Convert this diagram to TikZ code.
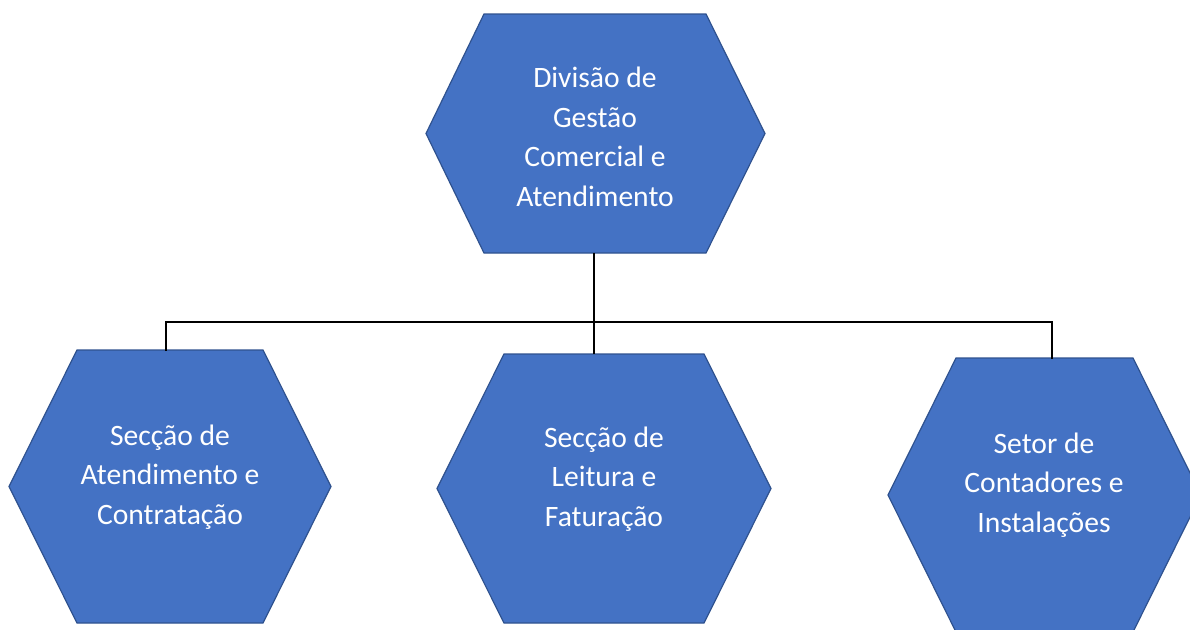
\documentclass[tikz,border=0pt]{standalone}
\usepackage{fontspec}
\setmainfont{Carlito}
\definecolor{hexfill}{HTML}{4472C4}
\definecolor{hexline}{HTML}{2F528F}
\begin{document}
\begin{tikzpicture}[x=0.75pt,y=-0.75pt,
  hex/.style={fill=hexfill,draw=hexline,line width=0.9pt},
  lbl/.style={text=white,align=center,inner sep=0pt,font=\fontsize{22.2}{29.6}\selectfont},
  conn/.style={draw=black,line width=0.9pt}]
\useasboundingbox (0,0) rectangle (1190,629);
\clip (0,0) rectangle (1190,629);
% hexagons
\draw[hex] (426,133.5) -- (484,14) -- (706,14) -- (765,133.5) -- (706,253) -- (484,253) -- cycle;
\draw[hex] (9,486.5) -- (77,350) -- (263,350) -- (331,486.5) -- (263,623) -- (77,623) -- cycle;
\draw[hex] (437,488.5) -- (504,354) -- (704,354) -- (771,488.5) -- (704,623) -- (504,623) -- cycle;
\draw[hex] (888,495) -- (956,358) -- (1133,358) -- (1201,495) -- (1133,632) -- (956,632) -- cycle;
% labels
\node[lbl] (top) at (595,137) {Divisão de\\Gestão\\Comercial e\\Atendimento};
\node[lbl] (left) at (170,477) {Secção de\\Atendimento e\\Contratação};
\node[lbl] (mid) at (604,479) {Secção de\\Leitura e\\Faturação};
\node[lbl] (right) at (1044,485) {Setor de\\Contadores e\\Instalações};
% connection points
\coordinate (topB) at (594,253);
\coordinate (midT) at (594,354);
\coordinate (leftT) at (166,351);
\coordinate (rightT) at (1052,359);
\coordinate (bus) at (0,322);
\draw[conn] (topB) -- (midT);
\draw[conn] (leftT) -- (leftT |- bus) -- (rightT |- bus) -- (rightT);
\end{tikzpicture}
\end{document}
